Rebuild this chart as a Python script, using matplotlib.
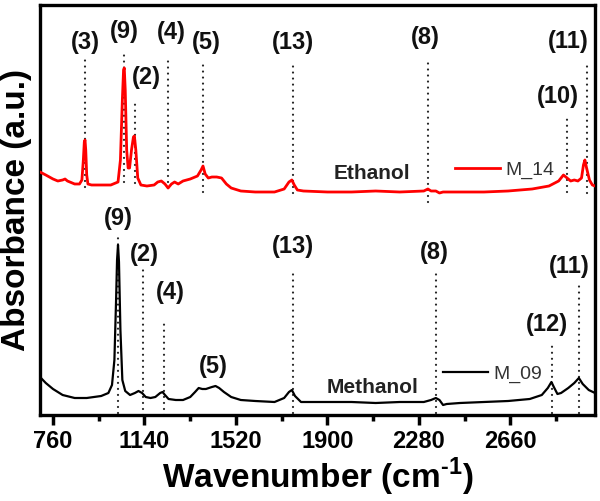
import matplotlib
matplotlib.use("Agg")
import matplotlib.pyplot as plt

plt.rcParams['font.family'] = ['Liberation Sans', 'DejaVu Sans']
plt.rcParams['mathtext.fontset'] = 'custom'
plt.rcParams['mathtext.rm'] = 'Liberation Sans'
plt.rcParams['mathtext.bf'] = 'Liberation Sans:bold'

# ---- data ----
eth_wn = [706, 730, 760, 780, 800, 810, 820, 850, 870, 880, 886, 890, 893, 896, 900, 905, 920, 960,
          1000, 1030, 1040, 1048, 1053, 1056, 1060, 1066, 1072, 1078, 1086, 1094, 1098, 1104, 1112,
          1125, 1150, 1180, 1195, 1210, 1225, 1238, 1252, 1265, 1280, 1300, 1330, 1360, 1375, 1383,
          1392, 1405, 1420, 1440, 1460, 1480, 1500, 1540, 1600, 1680, 1720, 1740, 1752, 1762, 1775,
          1800, 1900, 2000, 2100, 2200, 2300, 2317, 2330, 2350, 2365, 2380, 2450, 2550, 2650, 2750,
          2820, 2860, 2880, 2895, 2910, 2925, 2940, 2955, 2963, 2969, 2976, 2988, 3000, 3011]
eth_abs = [2.43, 2.40, 2.36, 2.34, 2.35, 2.36, 2.34, 2.31, 2.31, 2.35, 2.55, 2.73, 2.75, 2.65, 2.40,
           2.31, 2.30, 2.30, 2.30, 2.33, 2.55, 3.15, 3.45, 3.47, 3.25, 2.65, 2.47, 2.47, 2.65, 2.78,
           2.79, 2.65, 2.37, 2.30, 2.29, 2.30, 2.33, 2.34, 2.31, 2.27, 2.31, 2.33, 2.31, 2.34, 2.36,
           2.39, 2.45, 2.49, 2.41, 2.37, 2.38, 2.38, 2.37, 2.31, 2.27, 2.24, 2.23, 2.23, 2.26, 2.33,
           2.35, 2.30, 2.25, 2.24, 2.23, 2.23, 2.24, 2.23, 2.24, 2.26, 2.24, 2.24, 2.22, 2.23, 2.23,
           2.23, 2.24, 2.26, 2.29, 2.34, 2.40, 2.37, 2.34, 2.35, 2.34, 2.37, 2.50, 2.55, 2.47, 2.35,
           2.30, 2.29]

meth_wn = [706, 730, 760, 800, 850, 900, 960, 990, 1005, 1015, 1022, 1026, 1030, 1034, 1040, 1048,
           1060, 1080, 1100, 1115, 1130, 1145, 1165, 1185, 1205, 1215, 1225, 1240, 1270, 1300, 1330,
           1350, 1365, 1380, 1395, 1420, 1435, 1450, 1470, 1500, 1540, 1600, 1680, 1720, 1740, 1752,
           1765, 1790, 1900, 2000, 2100, 2200, 2300, 2330, 2350, 2365, 2380, 2395, 2450, 2550, 2650,
           2740, 2790, 2815, 2830, 2840, 2855, 2870, 2900, 2925, 2944, 2960, 2985, 3011]
meth_abs = [0.38, 0.32, 0.26, 0.20, 0.17, 0.17, 0.19, 0.22, 0.30, 0.55, 1.15, 1.55, 1.70, 1.53, 0.85,
            0.35, 0.24, 0.20, 0.22, 0.24, 0.22, 0.18, 0.17, 0.18, 0.22, 0.23, 0.20, 0.16, 0.15, 0.15,
            0.18, 0.23, 0.27, 0.26, 0.26, 0.28, 0.29, 0.27, 0.23, 0.18, 0.15, 0.14, 0.13, 0.17, 0.23,
            0.25, 0.19, 0.13, 0.13, 0.13, 0.12, 0.13, 0.13, 0.15, 0.17, 0.15, 0.10, 0.11, 0.12, 0.13,
            0.14, 0.16, 0.20, 0.27, 0.33, 0.28, 0.21, 0.22, 0.27, 0.32, 0.37, 0.31, 0.25, 0.22]

# peak marker lines: label, wavenumber
eth_peak_labels = ["(3)", "(9)", "(2)", "(4)", "(5)", "(13)", "(8)", "(10)", "(11)"]
eth_peak_wn = [893, 1055, 1100, 1238, 1383, 1757, 2317, 2893, 2976]
meth_peak_labels = ["(9)", "(2)", "(4)", "(5)", "(13)", "(8)", "(12)", "(11)"]
meth_peak_wn = [1030, 1134, 1221, None, 1757, 2350, 2832, 2944]

xticks = [760, 1140, 1520, 1900, 2280, 2660]
minor_xticks = [950, 1330, 1710, 2090, 2470, 2850]

# ---- layout (positions only) ----
eth_line_span = [(2.28, 3.58), (2.33, 3.63), (2.32, 3.15), (2.27, 3.58), (2.23, 3.55),
                 (2.22, 3.52), (2.13, 3.55), (2.23, 2.97), (2.22, 3.53)]
eth_label_pos = [(893, 3.72), (1055, 3.83), (1146, 3.37), (1250, 3.82), (1395, 3.72),
                 (1757, 3.72), (2305, 3.77), (2857, 3.18), (2899, 3.73)]
meth_line_span = [(0.02, 1.82), (0.0, 1.45), (0.0, 0.95), None, (0.02, 1.43),
                  (0.02, 1.43), (0.02, 0.72), (0.02, 1.32)]
meth_label_pos = [(1030, 1.97), (1138, 1.60), (1246, 1.22), (1424, 0.48), (1757, 1.69),
                  (2345, 1.63), (2811, 0.90), (2903, 1.48)]

fig = plt.figure(figsize=(6.0, 5.01), dpi=100)
ax = fig.add_axes([40/600, 86/501, 555/600, 410/501])

red_line, = ax.plot(eth_wn, eth_abs, color='#ff0000', lw=2.0, zorder=3)
black_line, = ax.plot(meth_wn, meth_abs, color='#000000', lw=1.6, zorder=3)

dot_style = dict(color='#222222', lw=1.6, linestyle=(0, (0.01, 2.7)), dash_capstyle='round', zorder=2)
for wn, span in zip(eth_peak_wn, eth_line_span):
    ax.plot([wn, wn], list(span), **dot_style)
for wn, span in zip(meth_peak_wn, meth_line_span):
    if wn is not None and span is not None:
        ax.plot([wn, wn], list(span), **dot_style)

lab_kw = dict(fontsize=17, fontweight='bold', ha='center', va='center', color='#111111')
for lab, (x, y) in zip(eth_peak_labels, eth_label_pos):
    ax.text(x, y, lab, **lab_kw)
for lab, (x, y) in zip(meth_peak_labels, meth_label_pos):
    ax.text(x, y, lab, **lab_kw)

ax.text(0.598, 0.590, "Ethanol", transform=ax.transAxes, fontsize=15, fontweight='bold',
        ha='center', va='center', color='#222222')
ax.text(0.600, 0.066, "Methanol", transform=ax.transAxes, fontsize=15, fontweight='bold',
        ha='center', va='center', color='#222222')

leg1 = ax.legend([red_line], ["M_14"], loc='center left', bbox_to_anchor=(0.748, 0.598),
                 frameon=False, fontsize=14, handlelength=2.3, handletextpad=0.3,
                 borderpad=0, borderaxespad=0, labelcolor='#333333')
ax.add_artist(leg1)
ax.legend([black_line], ["M_09"], loc='center left', bbox_to_anchor=(0.726, 0.100),
          frameon=False, fontsize=14, handlelength=2.3, handletextpad=0.3,
          borderpad=0, borderaxespad=0, labelcolor='#333333')

ax.set_xlim(706, 3011)
ax.set_ylim(0, 4.10)
ax.set_xticks(xticks)
ax.set_xticks(minor_xticks, minor=True)
ax.set_xticklabels([str(t) for t in xticks], fontsize=17, fontweight='bold')
ax.set_yticks([])
ax.tick_params(axis='x', which='major', direction='out', length=7, width=2.5, pad=4)
ax.tick_params(axis='x', which='minor', direction='out', length=4, width=2.5)
for s in ax.spines.values():
    s.set_linewidth(2.4)

ax.set_xlabel("Wavenumber (cm$^{\\mathbf{\u20101}}$)", fontsize=24, fontweight='bold', labelpad=2)
ax.set_ylabel("Absorbance (a.u.)", fontsize=24, fontweight='bold', labelpad=6)

fig.savefig("out.png", dpi=100)
